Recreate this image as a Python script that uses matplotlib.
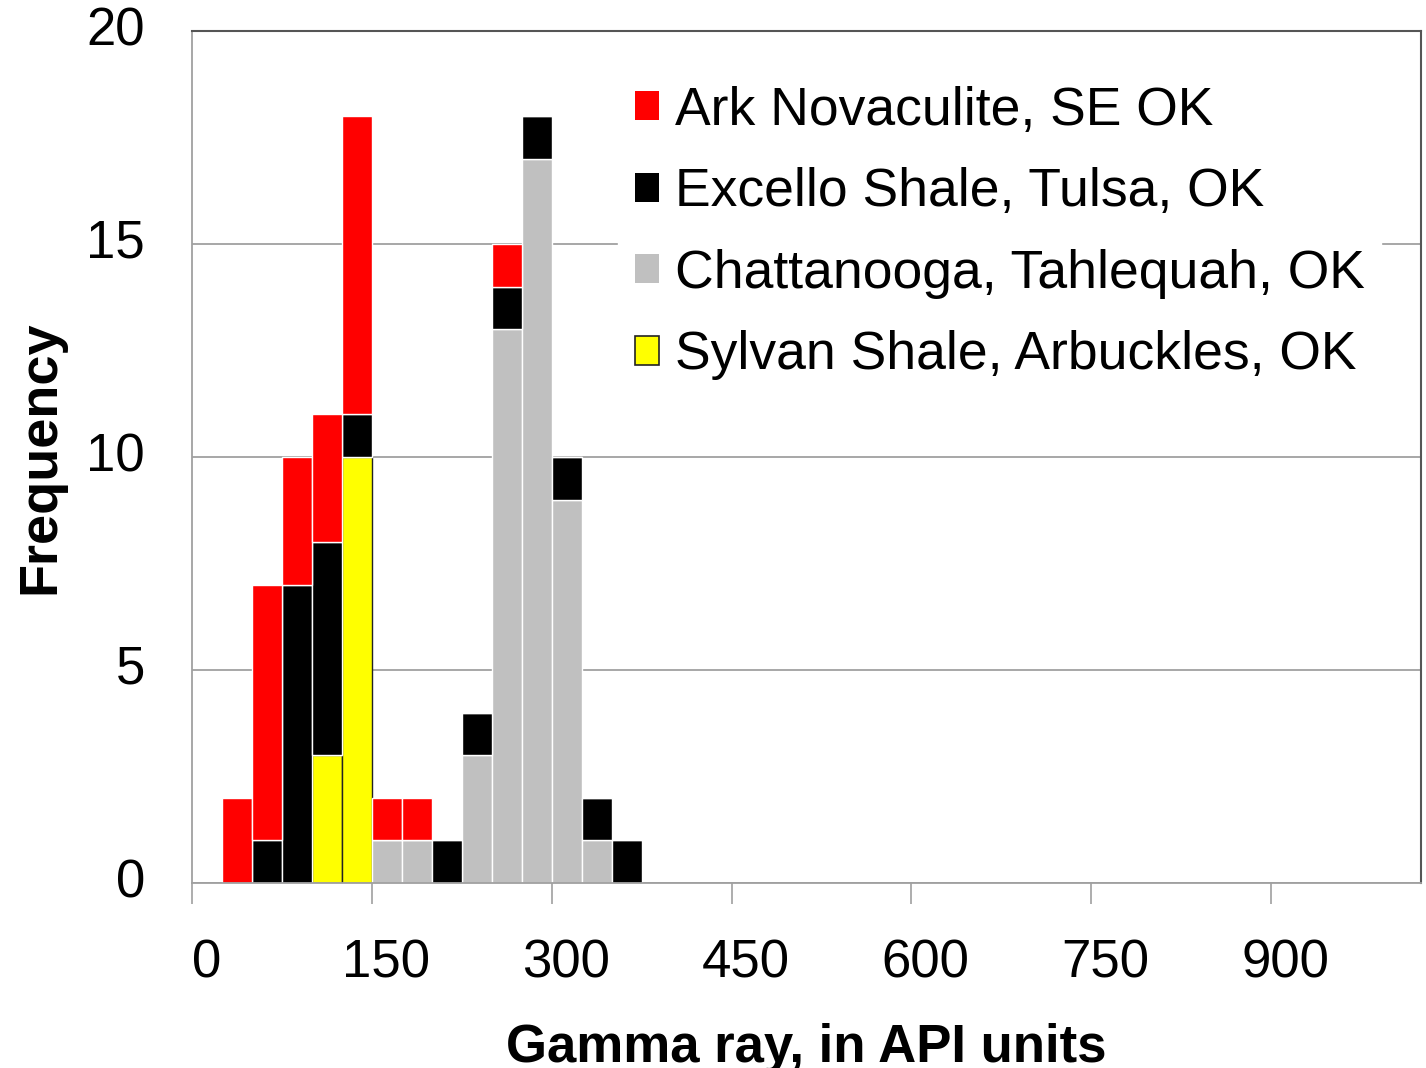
import matplotlib
matplotlib.use("Agg")
import matplotlib.pyplot as plt
from matplotlib.patches import Patch
from matplotlib.ticker import FixedLocator, NullFormatter
import numpy as np

# Gamma-ray histogram bins (API units), 25-unit wide
bin_left = [25, 50, 75, 100, 125, 150, 175, 200, 225, 250, 275, 300, 325, 350]
bin_width = 25

# Counts per bin for each formation
sylvan = [0, 0, 0, 3, 10, 0, 0, 0, 0, 0, 0, 0, 0, 0]
chattanooga = [0, 0, 0, 0, 0, 1, 1, 0, 3, 13, 17, 9, 1, 0]
excello = [0, 1, 7, 5, 1, 0, 0, 1, 1, 1, 1, 1, 1, 1]
ark = [2, 6, 3, 3, 7, 1, 1, 0, 0, 1, 0, 0, 0, 0]

legend_labels = ["Ark Novaculite, SE OK", "Excello Shale, Tulsa, OK",
                 "Chattanooga, Tahlequah, OK", "Sylvan Shale, Arbuckles, OK"]
x_ticks = [0, 150, 300, 450, 600, 750, 900]
y_ticks = [0, 5, 10, 15, 20]

plt.rcParams["font.family"] = ["Liberation Sans", "DejaVu Sans"]

fig = plt.figure(figsize=(14.26, 10.68), dpi=100)
ax = fig.add_axes([192 / 1426, 1 - 883 / 1068, (1421 - 192) / 1426, (883 - 31) / 1068])

x = np.array(bin_left, dtype=float)
base = np.zeros(len(x))
layers = [
    (sylvan, "#FFFF00", "#222222"),
    (chattanooga, "#C0C0C0", "white"),
    (excello, "#000000", "white"),
    (ark, "#FF0000", "white"),
]
for vals, color, edge in layers:
    v = np.array(vals, dtype=float)
    ax.bar(x, v, width=bin_width, bottom=base, align="edge", color=color,
           edgecolor=edge, linewidth=1.0, zorder=2)
    base += v

ax.set_xlim(0, 1025)
ax.set_ylim(0, 20)

# tick marks sit on the round values; their labels are drawn a little to the right
label_shift = 12
ax.xaxis.set_minor_locator(FixedLocator(x_ticks))
ax.xaxis.set_minor_formatter(NullFormatter())
ax.set_xticks([t + label_shift for t in x_ticks])
ax.set_xticklabels([str(t) for t in x_ticks], fontsize=38)
ax.set_yticks(y_ticks)
ax.set_yticklabels([str(t) for t in y_ticks], fontsize=38)

ax.tick_params(axis="x", which="major", length=15, width=0, pad=25)
ax.tick_params(axis="x", which="minor", length=15, width=1.2, color="#A0A0A0")
ax.tick_params(axis="y", length=0, pad=34)
for lbl in ax.get_yticklabels():
    lbl.set_verticalalignment("center")

ax.yaxis.grid(True, color="#A0A0A0", linewidth=1.3, zorder=0)
ax.set_axisbelow(True)

for side in ["left", "bottom"]:
    ax.spines[side].set_color("#A0A0A0")
    ax.spines[side].set_linewidth(1.3)
for side in ["top", "right"]:
    ax.spines[side].set_color("#555555")
    ax.spines[side].set_linewidth(1.5)

ax.set_ylabel("Frequency", fontsize=39, fontweight="bold", labelpad=15)
ax.set_xlabel("Gamma ray, in API units", fontsize=38, fontweight="bold", labelpad=25)

handles = [
    Patch(facecolor="#FF0000", edgecolor="none"),
    Patch(facecolor="#000000", edgecolor="none"),
    Patch(facecolor="#C0C0C0", edgecolor="none"),
    Patch(facecolor="#FFFF00", edgecolor="#222222", linewidth=1.2),
]
leg = ax.legend(handles, legend_labels, loc="upper left",
                bbox_to_anchor=(0.347, 0.9545), fontsize=38.5, frameon=True,
                fancybox=False, framealpha=1, edgecolor="white",
                facecolor="white", handlelength=0.45, handleheight=0.45,
                handletextpad=0.3, labelspacing=0.59, borderpad=0.3,
                borderaxespad=0)
leg.set_zorder(3)

fig.savefig("out.png", dpi=100)
